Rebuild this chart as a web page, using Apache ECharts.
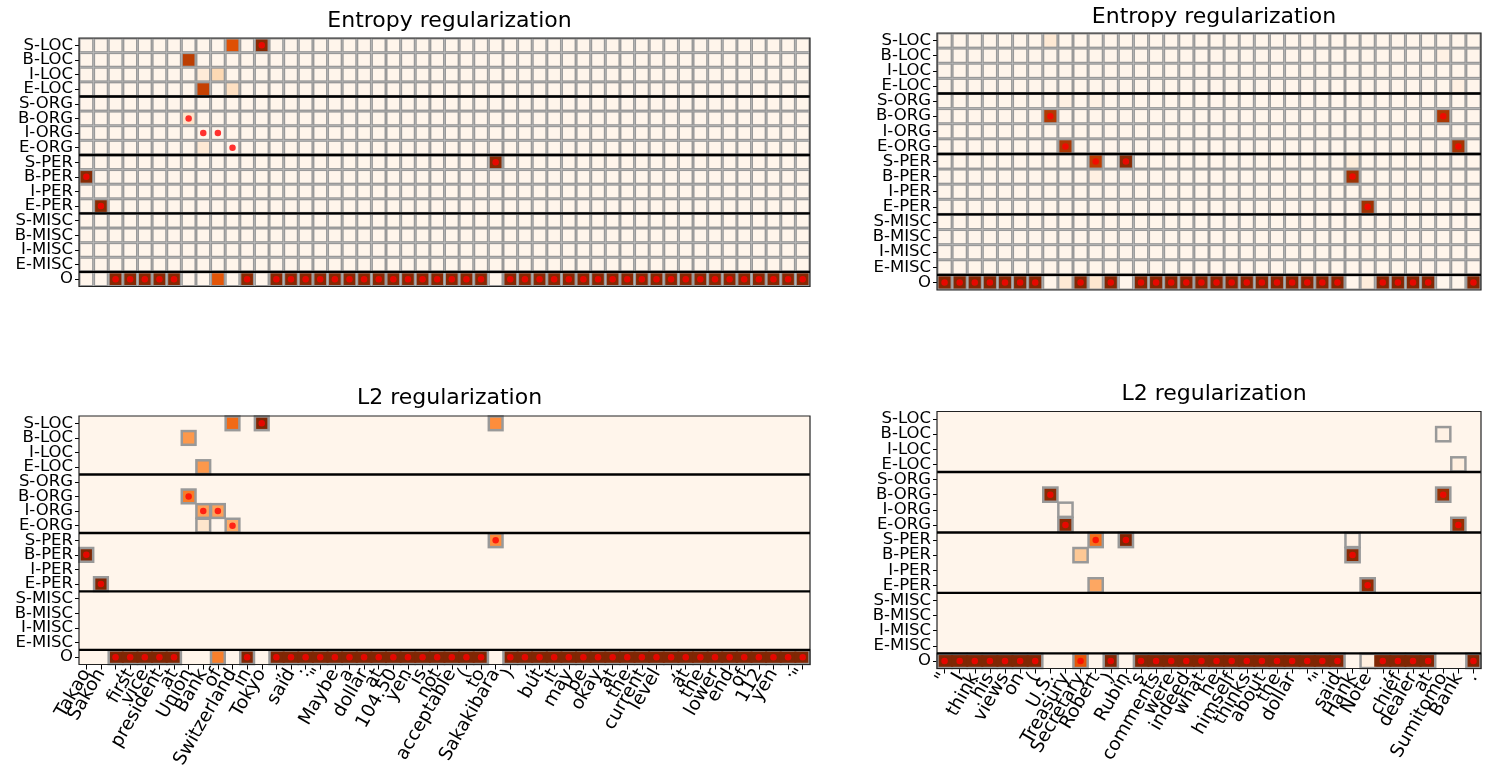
<!DOCTYPE html>
<html>
<head>
<meta charset="utf-8">
<script src="https://cdn.jsdelivr.net/npm/echarts@6/dist/echarts.min.js"></script>
<style>html,body{margin:0;padding:0;background:#fff;}#chart{width:1494px;height:776px;}</style>
</head>
<body>
<div id="chart"></div>
<script>
// ---------------- DATA ----------------
const rowLabels = ['S-LOC','B-LOC','I-LOC','E-LOC','S-ORG','B-ORG','I-ORG','E-ORG',
  'S-PER','B-PER','I-PER','E-PER','S-MISC','B-MISC','I-MISC','E-MISC','O'];

const tokens1 = ['Takao','Sakoh',',','first','vice','president','at','Union','Bank','of',
  'Switzerland','in','Tokyo',',','said',':','"','Maybe','a','dollar','at','104.50','yen',
  'is','not','acceptable','(','to','Sakakibara',')',',','but','it','may','be','okay','at',
  'the','current','level',',','at','the','lower','end','of','112','yen','.','"'];

const tokens2 = ['"','I','think','his','views','on','(','U.S.','Treasury','Secretary','Robert',
  ')','Rubin',"'s",'comments','were','indeed','what','he','himself','thinks','about','the',
  'dollar',',','"','said','Hank','Note',',','chief','dealer','at','Sumitomo','Bank','.'];

// gold tags (red dots)
const gold1 = ['B-PER','E-PER','O','O','O','O','O','B-ORG','I-ORG','I-ORG','E-ORG','O','S-LOC',
  'O','O','O','O','O','O','O','O','O','O','O','O','O','O','O','S-PER','O','O','O','O','O',
  'O','O','O','O','O','O','O','O','O','O','O','O','O','O','O','O'];
const gold2 = ['O','O','O','O','O','O','O','B-ORG','E-ORG','O','S-PER','O','S-PER','O','O','O',
  'O','O','O','O','O','O','O','O','O','O','O','B-PER','E-PER','O','O','O','O','B-ORG','E-ORG','O'];

// probability of tag "O" per token
const entropyO1 = [0,0,0.98,0.98,0.98,0.98,0.98,0,0,0.7,0,0.97,0,
  0.98,0.98,0.98,0.98,0.98,0.98,0.98,0.98,0.98,0.98,0.98,0.98,0.98,0.98,0.98,0,
  0.98,0.98,0.98,0.98,0.98,0.98,0.98,0.98,0.98,0.98,0.98,0.98,0.98,0.98,0.98,0.98,0.98,0.98,0.98,0.98,0.98];
const l2O1 = [0,0,1,1,1,1,1,0,0,0.55,0,1,0,
  1,1,1,1,1,1,1,1,1,1,1,1,1,1,1,0,
  1,1,1,1,1,1,1,1,1,1,1,1,1,1,1,1,1,1,1,1,1];
const entropyO2 = [0.99,0.99,0.99,0.99,0.99,0.99,0.99,0,0.1,0.99,0.12,0.99,0,
  0.99,0.99,0.99,0.99,0.99,0.99,0.99,0.99,0.99,0.99,0.99,0.99,0.99,0.99,0,0.07,
  0.99,0.99,0.99,0.99,0,0,0.99];
const l2O2 = [1,1,1,1,1,1,1,0,0,0.7,0,1,0,
  1,1,1,1,1,1,1,1,1,1,1,1,1,1,0,0.05,
  1,1,1,1,0,0,1];

// other tags: [token index, tag, probability]
const entropyTags1 = [[10,'S-LOC',0.72],[12,'S-LOC',0.97],[7,'B-LOC',0.82],[8,'I-LOC',0.08],
  [9,'I-LOC',0.2],[8,'E-LOC',0.8],[10,'E-LOC',0.16],[7,'B-ORG',0.14],[8,'E-ORG',0.1],
  [28,'S-PER',0.97],[0,'B-PER',0.97],[1,'E-PER',0.97]];
const l2Tags1 = [[10,'S-LOC',0.62],[12,'S-LOC',1.0],[28,'S-LOC',0.5],[7,'B-LOC',0.46],
  [8,'E-LOC',0.46],[7,'B-ORG',0.56],[8,'I-ORG',0.42],[9,'I-ORG',0.42],[8,'E-ORG',0.13],
  [10,'E-ORG',0.38],[28,'S-PER',0.5],[0,'B-PER',1.0],[1,'E-PER',1.0]];
const entropyTags2 = [[7,'S-LOC',0.1],[33,'B-LOC',0.03],[34,'E-LOC',0.04],[8,'S-ORG',0.04],
  [10,'S-ORG',0.03],[7,'B-ORG',0.85],[33,'B-ORG',0.86],[8,'E-ORG',0.86],[34,'E-ORG',0.88],
  [10,'S-PER',0.82],[12,'S-PER',0.97],[27,'S-PER',0.07],[10,'B-PER',0.04],[27,'B-PER',0.9],
  [28,'E-PER',0.9]];
const l2Tags2 = [[33,'B-LOC',0.03],[34,'E-LOC',0.05],[7,'B-ORG',0.97],[33,'B-ORG',0.92],
  [8,'I-ORG',0.03],[8,'E-ORG',0.97],[34,'E-ORG',0.93],[10,'S-PER',0.6],[12,'S-PER',1.0],
  [27,'S-PER',0.03],[9,'B-PER',0.28],[27,'B-PER',0.97],[10,'E-PER',0.4],[28,'E-PER',0.95]];

const titles = ['Entropy regularization','Entropy regularization','L2 regularization','L2 regularization'];

// ---------------- STYLE / HELPERS ----------------
const FONT = 'DejaVu Sans';
const ORANGES = ['#fff5eb','#fee6ce','#fdd0a2','#fdae6b','#fd8d3c','#f16913','#d94801','#a63603','#7f2704'];
function hex2rgb(h){return [parseInt(h.slice(1,3),16),parseInt(h.slice(3,5),16),parseInt(h.slice(5,7),16)];}
function orange(v){
  v = Math.max(0, Math.min(1, v));
  const p = v * (ORANGES.length - 1), i = Math.min(Math.floor(p), ORANGES.length - 2), t = p - i;
  const a = hex2rgb(ORANGES[i]), b = hex2rgb(ORANGES[i+1]);
  return 'rgb(' + a.map((x,k)=>Math.round(x + (b[k]-x)*t)).join(',') + ')';
}
const oIdx = rowLabels.indexOf('O');
function buildCells(oRow, tags, nTok, full){
  const m = rowLabels.map(() => new Array(nTok).fill(0));
  oRow.forEach((v,i) => { m[oIdx][i] = v; });
  tags.forEach(([t, tag, v]) => { m[rowLabels.indexOf(tag)][t] = v; });
  const out = [];
  for (let r = 0; r < rowLabels.length; r++) {
    for (let t = 0; t < nTok; t++) {
      const v = m[r][t];
      if (full || v > 0) {
        const l = (r === oIdx && t > 0 && m[r][t-1] > 0) ? 1 : 0;
        const rr = (r === oIdx && t < nTok-1 && m[r][t+1] > 0) ? 1 : 0;
        out.push([t, r, v, l, rr]);
      }
    }
  }
  return out;
}
function entropyRender(params, api){
  const c = api.coord([api.value(0), api.value(1)]);
  const s = api.size([1,1]);
  const x0 = c[0]-s[0]/2, y0 = c[1]-s[1]/2, ins = 1.5;
  return {type:'group', children:[
    {type:'rect', shape:{x:x0, y:y0, width:s[0], height:s[1]}, style:{fill:'#999999'}, z2:0},
    {type:'rect', shape:{x:x0+ins, y:y0+ins, width:s[0]-2*ins, height:s[1]-2*ins}, style:{fill:orange(api.value(2))}, z2:1}
  ]};
}
function l2Render(params, api){
  const c = api.coord([api.value(0), api.value(1)]);
  const s = api.size([1,1]);
  const x0 = c[0]-s[0]/2, y0 = c[1]-s[1]/2, out = 0.8, ins = 1.7;
  const lx = api.value(3) ? x0 - out - 0.2 : x0 + ins;
  const rx = api.value(4) ? x0 + s[0] + out + 0.2 : x0 + s[0] - ins;
  return {type:'group', children:[
    {type:'rect', shape:{x:x0-out, y:y0-out, width:s[0]+2*out, height:s[1]+2*out}, style:{fill:'#999999'}, z2:0},
    {type:'rect', shape:{x:lx, y:y0+ins, width:rx-lx, height:s[1]-2*ins}, style:{fill:orange(api.value(2))}, z2:1}
  ]};
}
const sepRows = rowLabels.map((r,i)=>i).filter(i => rowLabels[i].startsWith('E-'));
function sepRender(params, api){
  const cs = params.coordSys;
  const s = api.size([1,1]);
  const y = api.coord([0, api.value(1)])[1] + s[1]/2;
  const ch = [{type:'line', shape:{x1:cs.x, y1:y, x2:cs.x+cs.width, y2:y}, style:{stroke:'#000', lineWidth:2.4}}];
  if (params.dataIndex === 0) {
    ch.push({type:'rect', shape:{x:cs.x, y:cs.y, width:cs.width, height:cs.height}, style:{fill:null, stroke:'#222', lineWidth:1.2}});
  }
  return {type:'group', children: ch};
}

// ---------------- LAYOUT ----------------
const grids = [
  {left:79, top:38, width:731, height:248.5},
  {left:937, top:33, width:544, height:257},
  {left:79, top:416, width:731, height:248.5},
  {left:937, top:411.5, width:544, height:257}
];
const titleY = [5, 1, 382, 378];
const panels = [
  {tokens:tokens1, gold:gold1, cells:buildCells(entropyO1, entropyTags1, tokens1.length, true), mode:'entropy', bottom:false},
  {tokens:tokens2, gold:gold2, cells:buildCells(entropyO2, entropyTags2, tokens2.length, true), mode:'entropy', bottom:false},
  {tokens:tokens1, gold:gold1, cells:buildCells(l2O1, l2Tags1, tokens1.length, false), mode:'l2', bottom:true},
  {tokens:tokens2, gold:gold2, cells:buildCells(l2O2, l2Tags2, tokens2.length, false), mode:'l2', bottom:true}
];

const option = {
  animation:false,
  backgroundColor:'#fff',
  title: grids.map((g,i)=>({
    text: titles[i], left: g.left + g.width/2, top: titleY[i], textAlign:'center',
    textStyle:{fontFamily:FONT, fontSize:22, fontWeight:'normal', color:'#000'}
  })),
  grid: grids.map((g,i)=>({left:g.left, top:g.top, width:g.width, height:g.height,
    show: panels[i].mode === 'l2', backgroundColor:'#fff5eb', borderWidth:0})),
  xAxis: panels.map((p,i)=>({
    type:'category', gridIndex:i, data:p.tokens,
    axisLine:{show:false}, splitLine:{show:false},
    axisTick:{show:p.bottom, alignWithLabel:true, length:5, lineStyle:{color:'#000', width:1}},
    axisLabel:{show:p.bottom, interval:0, rotate:60, margin:6, fontFamily:FONT, fontSize:18.5, color:'#000'}
  })),
  yAxis: panels.map((p,i)=>({
    type:'category', gridIndex:i, data:rowLabels, inverse:true,
    axisLine:{show:false}, splitLine:{show:false},
    axisTick:{show:true, alignWithLabel:true, length:4, lineStyle:{color:'#000', width:1}},
    axisLabel:{interval:0, margin:6, fontFamily:FONT, fontSize:16.5, color:'#000'}
  })),
  series: []
};
panels.forEach((p,i)=>{
  option.series.push({
    type:'custom', xAxisIndex:i, yAxisIndex:i, z:2,
    renderItem: p.mode === 'entropy' ? entropyRender : l2Render,
    encode:{x:0, y:1}, data:p.cells, silent:true
  });
  option.series.push({
    type:'scatter', xAxisIndex:i, yAxisIndex:i, z:4, silent:true,
    symbol:'circle', symbolSize:6.5, itemStyle:{color:'#ff0000'},
    data: p.gold.map((tag,t)=>[t, rowLabels.indexOf(tag)])
  });
  option.series.push({
    type:'custom', xAxisIndex:i, yAxisIndex:i, z:5, silent:true,
    renderItem: sepRender, encode:{x:0, y:1},
    data: sepRows.map(r=>[0, r])
  });
});

const chart = echarts.init(document.getElementById('chart'), null, {renderer:'canvas'});
chart.setOption(option);
</script>
</body>
</html>
